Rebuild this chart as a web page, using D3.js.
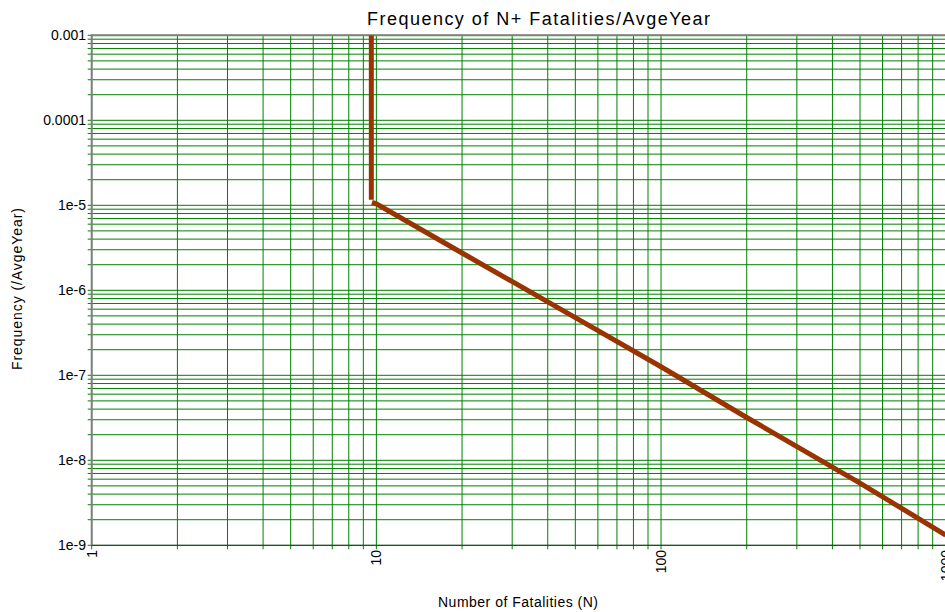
<!DOCTYPE html>
<html>
<head>
<meta charset="utf-8">
<script src="https://d3js.org/d3.v7.min.js"></script>
<style>
    body { margin: 0; background: white; }
    svg { display: block; font-family: "Liberation Sans", Arial, sans-serif; }
</style>
</head>
<body>
<div id="chart"></div>
<script>
    // tick labels
    let xTickValues = [1, 10, 100, 1000];
    let xTickLabels = ["1", "10", "100", "1000"];
    let yTickValues = [1e-3, 1e-4, 1e-5, 1e-6, 1e-7, 1e-8, 1e-9];
    let yTickLabels = ["0.001", "0.0001", "1e-5", "1e-6", "1e-7", "1e-8", "1e-9"];

    // FN curve
    let vertN = [9.6, 9.6];
    let vertF = [1e-3, 1.16e-5];
    let slopeN = [9.65, 10, 20, 50, 100, 200, 500, 1000];
    let slopeF = [1.08e-5, 1.04e-5, 2.75e-6, 4.77e-7, 1.26e-7, 3.19e-8, 5.4e-9, 1.32e-9];

    let width = 945, height = 612;
    let plotLeft = 91.7, plotRight = 945.7, plotTop = 35.3, plotBottom = 545.3;

    let svg = d3.select("#chart").append("svg")
        .attr("width", width)
        .attr("height", height);

    let x = d3.scaleLog().domain([1, 1000]).range([plotLeft, plotRight]);
    let y = d3.scaleLog().domain([1e-9, 1e-3]).range([plotBottom, plotTop]);

    // grid lines (major + minor), running 4px past the left and bottom axes
    svg.append("g").selectAll("line")
        .data(y.ticks())
        .join("line")
        .attr("x1", plotLeft - 4).attr("x2", plotRight)
        .attr("y1", d => y(d)).attr("y2", d => y(d))
        .attr("stroke", "#008000")
        .attr("stroke-width", 1);

    svg.append("g").selectAll("line")
        .data(x.ticks())
        .join("line")
        .attr("x1", d => x(d)).attr("x2", d => x(d))
        .attr("y1", plotTop).attr("y2", plotBottom + 4)
        .attr("stroke", "#008000")
        .attr("stroke-width", 1);

    // frame
    svg.append("line")
        .attr("x1", plotLeft).attr("x2", plotRight).attr("y1", plotTop).attr("y2", plotTop)
        .attr("stroke", "#808080").attr("stroke-width", 2);
    svg.append("line")
        .attr("x1", plotLeft).attr("x2", plotLeft).attr("y1", plotTop - 1).attr("y2", plotBottom)
        .attr("stroke", "#808080").attr("stroke-width", 2);
    svg.append("line")
        .attr("x1", plotLeft).attr("x2", plotRight).attr("y1", plotBottom).attr("y2", plotBottom)
        .attr("stroke", "#333333").attr("stroke-width", 1);

    // curve
    svg.append("clipPath").attr("id", "plotClip")
        .append("rect")
        .attr("x", plotLeft).attr("y", plotTop)
        .attr("width", plotRight - plotLeft).attr("height", plotBottom - plotTop);

    let line = d3.line()
        .x(d => x(d[0]))
        .y(d => y(d[1]));

    let curves = svg.append("g").attr("clip-path", "url(#plotClip)");
    curves.append("path")
        .attr("d", line(vertN.map((n, i) => [n, vertF[i]])))
        .attr("fill", "none")
        .attr("stroke", "#993300")
        .attr("stroke-width", 5);
    curves.append("path")
        .attr("d", line(slopeN.map((n, i) => [n, slopeF[i]])))
        .attr("fill", "none")
        .attr("stroke", "#993300")
        .attr("stroke-width", 5);

    // y tick labels
    svg.append("g").selectAll("text")
        .data(yTickValues)
        .join("text")
        .attr("x", 86)
        .attr("y", d => y(d))
        .attr("dy", "0.35em")
        .attr("text-anchor", "end")
        .attr("font-size", 14)
        .attr("fill", "#000")
        .text((d, i) => yTickLabels[i]);

    // x tick labels, rotated (the last one runs off the right edge, as in the original)
    svg.append("g").selectAll("text")
        .data(xTickValues)
        .join("text")
        .attr("transform", d => "translate(" + x(d) + "," + 550 + ") rotate(-90)")
        .attr("dy", "0.35em")
        .attr("text-anchor", "end")
        .attr("font-size", 14)
        .attr("fill", "#000")
        .text((d, i) => xTickLabels[i]);

    // titles
    svg.append("text")
        .attr("x", 367).attr("y", 25)
        .attr("font-size", 18)
        .attr("textLength", 343)
        .attr("lengthAdjust", "spacing")
        .text("Frequency of N+ Fatalities/AvgeYear");

    svg.append("text")
        .attr("x", 438).attr("y", 607)
        .attr("font-size", 14)
        .attr("textLength", 160)
        .attr("lengthAdjust", "spacing")
        .text("Number of Fatalities (N)");

    svg.append("text")
        .attr("transform", "translate(22,370) rotate(-90)")
        .attr("font-size", 14)
        .attr("textLength", 162)
        .attr("lengthAdjust", "spacing")
        .text("Frequency (/AvgeYear)");
</script>
</body>
</html>
